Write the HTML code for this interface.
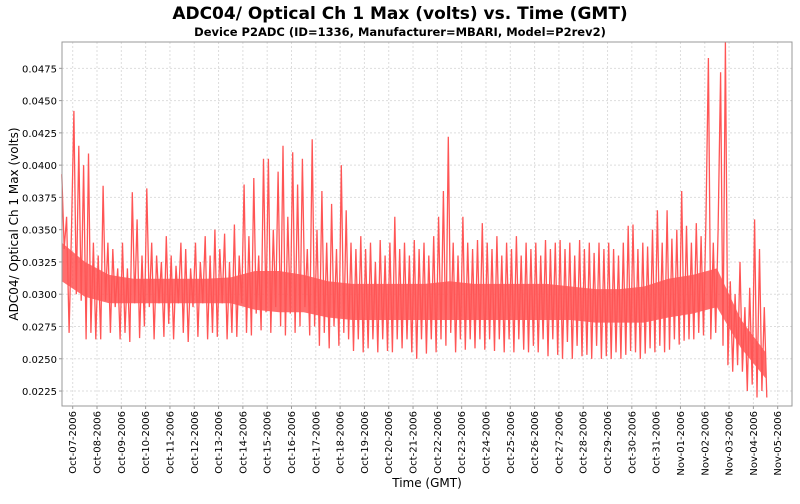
<!DOCTYPE html>
<html><head><meta charset="utf-8"><style>
body{margin:0;background:#fff;font-family:"DejaVu Sans","Liberation Sans",sans-serif}
svg text{font-family:"DejaVu Sans","Liberation Sans",sans-serif}
</style></head><body>
<svg id="chart" width="800" height="500" xmlns="http://www.w3.org/2000/svg">
<rect width="800" height="500" fill="#fff"/>
<text x="400" y="19" text-anchor="middle" font-size="17" font-weight="bold">ADC04/ Optical Ch 1 Max (volts) vs. Time (GMT)</text>
<text x="400" y="36" text-anchor="middle" font-size="11.5" font-weight="bold">Device P2ADC (ID=1336, Manufacturer=MBARI, Model=P2rev2)</text>
<g id="grid"></g>
<g id="series"></g>
<rect x="62" y="42" width="730" height="364" fill="none" stroke="#999"/>
<g id="yt"></g>
<g id="xt"></g>
<text transform="translate(18,224) rotate(-90)" text-anchor="middle" font-size="12">ADC04/ Optical Ch 1 Max (volts)</text>
<text x="427" y="487" text-anchor="middle" font-size="12">Time (GMT)</text>
</svg>
<script>
// values in millivolts, sampled every 0.1 day starting at t0 (days from Oct-07 00:00)
const t0 = -0.45;
const step = 0.1;
const values = [
39.3,33.5,36,27,35,
44.2,30,41.5,29.5,40,26.5,40.9,27,34,26.5,
33,26.5,38.4,29.5,34,27,33.5,29,32,26.5,
34,27,32,26.3,37.9,29.3,35.8,26.6,33,27.5,
38.2,29,34,26.5,33,29.3,32.5,26.7,34.5,27.7,
33,26.5,32.2,29.3,34,27,33.5,26.3,32,29,
34,26.7,32.5,29.3,34.5,26.5,33,27,35,26.7,
33.5,29.3,34.7,26.5,32.5,27,35.4,26.7,33,29.3,
38.5,27,34.5,26.8,39,28.5,33,27.2,40.5,28.6,
40.5,27,35,29,39.5,27.5,41.5,26.8,36,28.5,
41,27,38.5,27.5,40.5,29,33.5,26.8,42,27.5,
35,26,38,27,34,25.8,37,27.5,33.5,26,
40,27,36.5,26.5,34,25.6,33.5,26.5,34.5,25.5,
33.5,25.8,34,26.5,32.5,25.5,34.2,26.5,33,25.6,
34,25.5,36,26.5,33.5,25.8,34,26.5,33,25.5,
34.2,25,33.5,26.5,34,25.4,33,26.5,34.5,25.5,
36,26.5,38,26,42.2,27,34,25.5,33,26.5,
36,25.7,34,26.5,33.5,25.8,34.2,26.5,35.5,25.7,
34,26.5,33.5,25.6,34.5,26.5,33,25.5,34,26.5,
33.5,25.5,34.5,26.5,33,25.7,34,25.5,33.5,26,
34,25.5,33,26.5,34.2,25.2,33.5,26.5,34,25.3,
34.2,25,33.5,26.3,34,25,33,26,34.2,25.2,
33.5,25.3,34,25,33.2,26,34,25,33.5,25.2,
34,25,33.5,25.5,33,25,34,25.3,35.3,25.6,
35.4,25.5,33.5,25,34,25.4,33.7,25.8,35,25.5,
36.5,26,34,25.5,36.5,25.7,34.3,26.5,35,26.1,
38,26.4,35.3,26.5,34,26.5,35.5,27,34.5,26.8,
36,48.3,26.5,34,27,35,47.2,26,50,24.5,
31,24,30,24.5,32.5,24,29,22.5,30.5,23,
35.8,22,33.5,22.5,29,22
];
// dense core band (mV), one entry per day starting day -1 (Oct-06), centered mid-day
const bandLow  = [31,29.8,29.3,29.3,29.3,29.3,29.3,29.3,28.8,28.6,28.6,28.2,28,28,28,28,28,28,28,28,28,28,27.8,27.8,27.8,28.2,28.5,29,25.8,23.5];
const bandHigh = [34,32.5,31.5,31.2,31.2,31.2,31.2,31.3,31.8,31.8,31.5,31,30.8,30.8,30.8,30.8,31,30.8,30.8,30.8,30.8,30.6,30.4,30.4,30.6,31.2,31.5,32,28,25.5];
const yTicks = [0.0225,0.025,0.0275,0.03,0.0325,0.035,0.0375,0.04,0.0425,0.045,0.0475];
const xTickLabels = ["Oct-07-2006","Oct-08-2006","Oct-09-2006","Oct-10-2006","Oct-11-2006","Oct-12-2006","Oct-13-2006","Oct-14-2006","Oct-15-2006","Oct-16-2006","Oct-17-2006","Oct-18-2006","Oct-19-2006","Oct-20-2006","Oct-21-2006","Oct-22-2006","Oct-23-2006","Oct-24-2006","Oct-25-2006","Oct-26-2006","Oct-27-2006","Oct-28-2006","Oct-29-2006","Oct-30-2006","Oct-31-2006","Nov-01-2006","Nov-02-2006","Nov-03-2006","Nov-04-2006","Nov-05-2006"];

const NS="http://www.w3.org/2000/svg";
const L=62,R=792,T=42,B=406;
const yMin=0.02134,yMax=0.04954;
const xS=t=>72.7+t*24.31;
const yS=v=>B-(v-yMin)/(yMax-yMin)*(B-T);
const clampY=y=>Math.max(T,Math.min(B,y));
function mk(tag,attrs,parent){const e=document.createElementNS(NS,tag);for(const k in attrs)e.setAttribute(k,attrs[k]);parent.appendChild(e);return e;}
const grid=document.getElementById('grid'),yt=document.getElementById('yt'),xt=document.getElementById('xt'),ser=document.getElementById('series');
yTicks.forEach(v=>{const y=yS(v);
 const g=mk('line',{x1:L,x2:R,y1:y,y2:y,stroke:'#ddd','stroke-dasharray':'2,2'},grid);
 
 
 mk('line',{x1:L-3,x2:L,y1:y,y2:y,stroke:'#999'},yt);
 const t=mk('text',{x:L-5,y:y+4,'text-anchor':'end','font-size':'10'},yt);
 
 
 t.textContent=v.toFixed(4);
});
xTickLabels.forEach((lab,i)=>{const x=xS(i);
 const g=mk('line',{x1:x,x2:x,y1:T,y2:B,stroke:'#ddd','stroke-dasharray':'2,2'},grid);
 
 
 mk('line',{x1:x,x2:x,y1:B,y2:B+3,stroke:'#999'},xt);
 const t=mk('text',{transform:`translate(${x+3.5},${B+5}) rotate(-90)`,'text-anchor':'end','font-size':'10'},xt);
 
 
 t.textContent=lab;
});
// band
const tEnd=t0+(values.length-1)*step;
const bt=i=>Math.max(t0,Math.min(tEnd,i-1+0.5));
const bandTopPts=bandHigh.map((v,i)=>xS(bt(i)).toFixed(1)+','+clampY(yS(v/1000)).toFixed(1));
const bandBotPts=bandLow.map((v,i)=>xS(bt(i)).toFixed(1)+','+clampY(yS(v/1000)).toFixed(1)).reverse();
const bp=mk('polygon',{points:bandTopPts.concat(bandBotPts).join(' '),fill:'#ff5555','fill-opacity':'0.85'},ser);


const pts=values.map((v,i)=>xS(t0+i*step).toFixed(1)+','+clampY(yS(v/1000)).toFixed(1)).join(' ');
const pl=mk('polyline',{points:pts,fill:'none',stroke:'#ff5555','stroke-width':'1.3','stroke-linejoin':'miter'},ser);


</script>
</body></html>
